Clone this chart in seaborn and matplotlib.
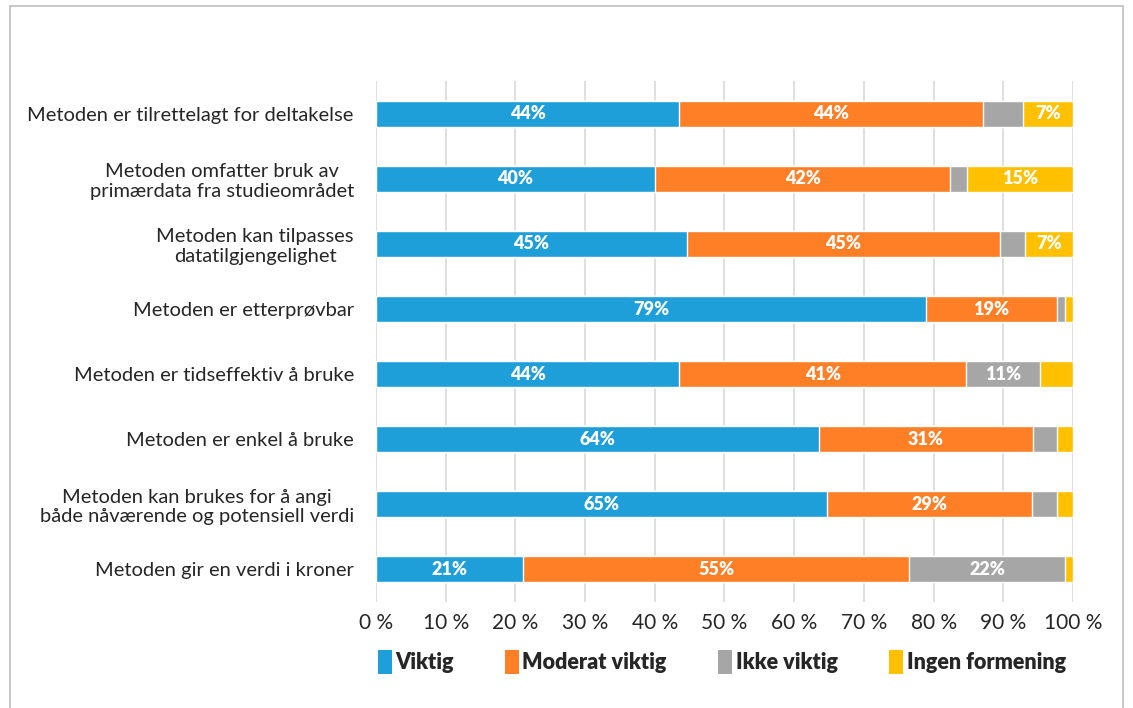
"""Stacked 100 % bar chart: importance of method properties."""

import matplotlib

matplotlib.use("Agg")
import matplotlib.pyplot as plt
import numpy as np
import pandas as pd
import seaborn as sns
from matplotlib.patches import Patch, Rectangle
from matplotlib.ticker import FuncFormatter


CATEGORIES = [
    "Metoden er tilrettelagt for deltakelse",
    "Metoden omfatter bruk av\nprimærdata fra studieområdet",
    "Metoden kan tilpasses\ndatatilgjengelighet",
    "Metoden er etterprøvbar",
    "Metoden er tidseffektiv å bruke",
    "Metoden er enkel å bruke",
    "Metoden kan brukes for å angi\nbåde nåværende og potensiell verdi",
    "Metoden gir en verdi i kroner",
]
SERIES = ["Viktig", "Moderat viktig", "Ikke viktig", "Ingen formening"]
VIKTIG = [43.5, 40.0, 44.6, 78.9, 43.5, 63.6, 64.7, 21.1]
MODERAT = [43.6, 42.4, 44.9, 18.8, 41.2, 30.6, 29.4, 55.4]
IKKE = [5.7, 2.4, 3.6, 1.2, 10.6, 3.5, 3.6, 22.4]
INGEN = [7.2, 15.2, 6.9, 1.1, 4.7, 2.3, 2.3, 1.1]
COLORS = ["#1F9FD9", "#FE7F26", "#A6A6A6", "#FFC000"]

sns.set_style("white")
plt.rcParams["font.family"] = ["Lato", "DejaVu Sans"]

values = np.array([VIKTIG, MODERAT, IKKE, INGEN])
cum = np.cumsum(values, axis=0)

fig = plt.figure(figsize=(11.33, 7.08), dpi=100)
ax = fig.add_axes([0.3319, 0.1504, 0.6151, 0.7345])

# draw cumulative totals from the right-most series back, so segments stack
for i in range(len(SERIES) - 1, -1, -1):
    df = pd.DataFrame({"kategori": CATEGORIES, "verdi": cum[i]})
    sns.barplot(data=df, x="verdi", y="kategori", orient="h", color=COLORS[i],
                width=0.4, saturation=1, ax=ax, zorder=3)

for i in range(len(SERIES)):
    for j, v in enumerate(values[i]):
        if v >= 6.5:
            left = cum[i][j] - v
            ax.text(left + v / 2, j, f"{v:.0f}%", ha="center", va="center",
                    color="white", fontsize=13, fontweight="heavy", zorder=4)

ax.set_xlim(0, 100)
ax.set_ylim(len(CATEGORIES) - 0.5, -0.5)
ax.set_xticks(np.arange(0, 101, 10))
ax.xaxis.set_major_formatter(FuncFormatter(lambda x, _: f"{x:.0f} %"))
ax.set_xlabel("")
ax.set_ylabel("")
ax.tick_params(axis="x", labelsize=15, length=0, pad=8)
ax.tick_params(axis="y", labelsize=14.5, length=0, pad=16)
for label in ax.get_yticklabels():
    label.set_horizontalalignment("right")
    label.set_multialignment("center")
ax.grid(axis="x", color="#D9D9D9", linewidth=1.2, zorder=0)
ax.grid(axis="y", visible=False)
for spine in ax.spines.values():
    spine.set_visible(False)

handles = [Patch(facecolor=c, edgecolor="none") for c in COLORS]
leg = fig.legend(handles, SERIES, loc="center", bbox_to_anchor=(0.637, 0.065),
                 ncol=4, frameon=False, handlelength=0.65, handleheight=1.3,
                 handletextpad=0.15, columnspacing=2.4,
                 prop={"weight": "heavy", "size": 15.5})

fig.patches.append(Rectangle((0.009, -0.02), 0.982, 1.012, transform=fig.transFigure,
                             fill=False, edgecolor="#BFBFBF", linewidth=1.2))

fig.savefig("out.png", dpi=100)
plt.close(fig)
